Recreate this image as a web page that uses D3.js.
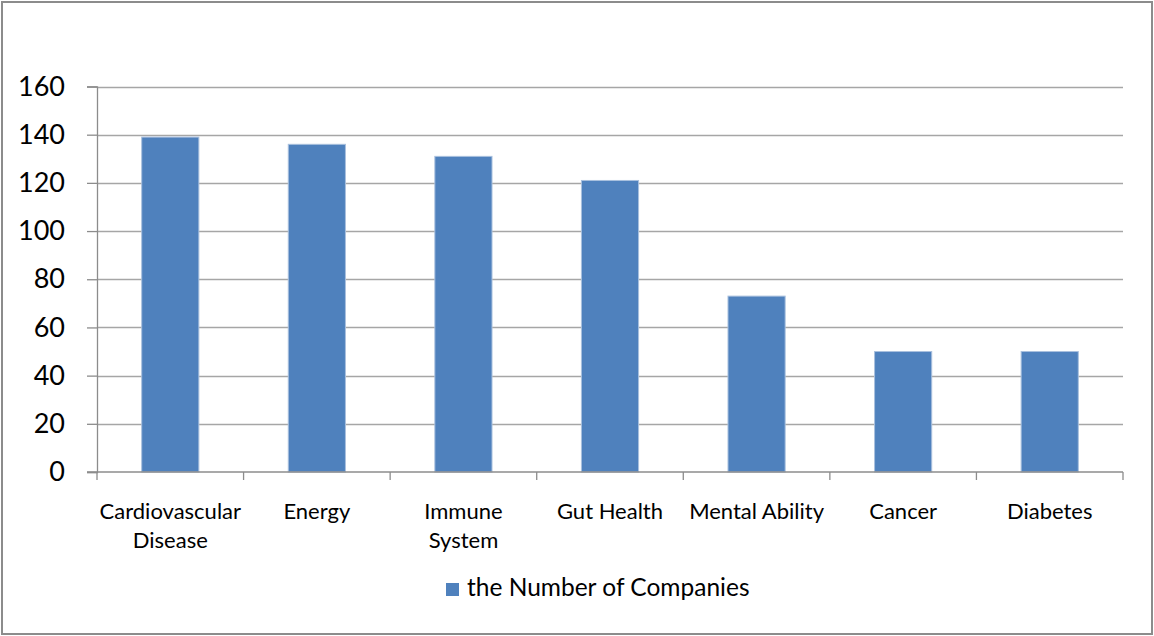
<!DOCTYPE html>
<html>
<head>
<meta charset="utf-8">
<script src="https://cdn.jsdelivr.net/npm/d3@7"></script>
<style>
  html, body { margin: 0; padding: 0; background: #fff; }
  svg { display: block; }
  text { font-family: Lato, "Open Sans", sans-serif; fill: #000; }
</style>
</head>
<body>
<svg id="chart" width="1154" height="636"></svg>
<script>
// Health areas (a "\n" marks a forced line break in the axis label)
const categories = [
  "Cardiovascular\nDisease",
  "Energy",
  "Immune\nSystem",
  "Gut Health",
  "Mental Ability",
  "Cancer",
  "Diabetes"
];
const companyCounts = [139, 136, 131, 121, 73, 50, 50];
const yTicks = [0, 20, 40, 60, 80, 100, 120, 140, 160];
const seriesName = "the Number of Companies";

const W = 1154, H = 636;
const plot = { left: 97, right: 1123, top: 86.5, bottom: 472 };

const svg = d3.select("#chart");

// outer frame
svg.append("rect")
  .attr("x", 2).attr("y", 2)
  .attr("width", W - 4).attr("height", H - 4)
  .attr("fill", "#fff")
  .attr("stroke", "#8c8c8c")
  .attr("stroke-width", 2);

const x = d3.scaleBand()
  .domain(categories)
  .range([plot.left, plot.right])
  .paddingInner(0.61)
  .paddingOuter(0.305);

const xTicks = d3.scaleBand()
  .domain(categories)
  .range([plot.left, plot.right]);

const y = d3.scaleLinear()
  .domain([0, 160])
  .range([plot.bottom, plot.top]);

// horizontal gridlines
svg.append("g")
  .selectAll("line")
  .data(yTicks.filter(d => d > 0))
  .join("line")
  .attr("x1", plot.left).attr("x2", plot.right)
  .attr("y1", d => Math.round(y(d)) + 0.5)
  .attr("y2", d => Math.round(y(d)) + 0.5)
  .attr("stroke", "#a6a6a6")
  .attr("stroke-width", 1.3);

// y axis
const yAxis = d3.axisLeft(y)
  .tickValues(yTicks)
  .tickSize(10)
  .tickPadding(22)
  .tickFormat(d3.format("d"));

const gy = svg.append("g")
  .attr("transform", `translate(${plot.left},0)`)
  .call(yAxis);
gy.select(".domain").attr("stroke", "#8c8c8c").attr("stroke-width", 1.3);
gy.selectAll(".tick line").attr("stroke", "#8c8c8c").attr("stroke-width", 1.3);
gy.selectAll(".tick text")
  .attr("font-size", 27)
  .attr("font-family", "Lato, sans-serif")
  .attr("fill", "#000");

// bars
svg.append("g")
  .selectAll("rect")
  .data(categories.map((c, i) => ({ c, v: companyCounts[i] })))
  .join("rect")
  .attr("x", d => x(d.c))
  .attr("width", x.bandwidth())
  .attr("y", d => y(d.v))
  .attr("height", d => y(0) - y(d.v))
  .attr("fill", "#4f81bd")
  .attr("stroke", "#a9c0de")
  .attr("stroke-width", 1);

// x axis baseline and category ticks
const xAxisG = svg.append("g");
xAxisG.append("line")
  .attr("x1", plot.left - 10).attr("x2", plot.right)
  .attr("y1", plot.bottom).attr("y2", plot.bottom)
  .attr("stroke", "#8c8c8c").attr("stroke-width", 1.3);
const boundaries = categories.map(c => xTicks(c)).concat([plot.right]);
xAxisG.selectAll("line.tk")
  .data(boundaries)
  .join("line")
  .attr("class", "tk")
  .attr("x1", d => d).attr("x2", d => d)
  .attr("y1", plot.bottom).attr("y2", plot.bottom + 8)
  .attr("stroke", "#8c8c8c").attr("stroke-width", 1.3);

// category labels
const labels = xAxisG.selectAll("text.cat")
  .data(categories)
  .join("text")
  .attr("class", "cat")
  .attr("text-anchor", "middle")
  .attr("font-size", 22)
  .attr("transform", d => `translate(${xTicks(d) + xTicks.bandwidth() / 2},519)`);
labels.selectAll("tspan")
  .data(d => d.split("\n"))
  .join("tspan")
  .attr("x", 0)
  .attr("dy", (d, i) => i === 0 ? 0 : 29)
  .text(d => d);

// legend
const legend = svg.append("g").attr("transform", "translate(446,583)");
legend.append("rect")
  .attr("width", 13).attr("height", 13)
  .attr("fill", "#4f81bd");
legend.append("text")
  .attr("x", 21).attr("y", 13)
  .attr("font-size", 24.5)
  .text(seriesName);
</script>
</body>
</html>
